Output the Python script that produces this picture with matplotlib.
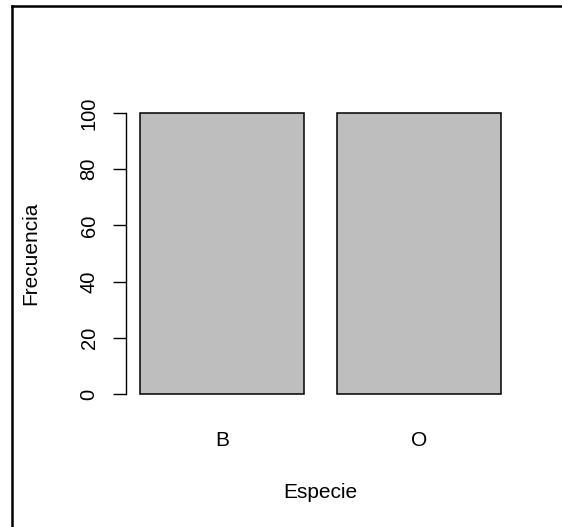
import numpy as np
import matplotlib
matplotlib.use("Agg")
from matplotlib import pyplot as plt
from matplotlib.lines import Line2D

especies = ["B", "O"]
frecuencias = [100, 100]
y_ticks = [0, 20, 40, 60, 80, 100]

plt.rcParams["font.family"] = ["Liberation Sans", "DejaVu Sans"]

W, H = 562, 527
fig = plt.figure(figsize=(W / 100, H / 100), dpi=100)

# R barplot layout: width 1, space 0.2, limits padded by 4%
lefts = 0.2 + np.arange(len(especies)) * 1.2
centers = lefts + 0.5
x_lo, x_hi = lefts[0], lefts[-1] + 1
x_pad = 0.04 * (x_hi - x_lo)
y_pad = 0.04 * max(frecuencias)

ax = fig.add_axes([125.6 / W, 1 - 405.2 / H, (515.2 - 125.6) / W, (405.2 - 101.8) / H])
ax.bar(centers, frecuencias, width=1.0, color="#BEBEBE", edgecolor="black", linewidth=1.1)
ax.set_xlim(x_lo - x_pad, x_hi + x_pad)
ax.set_ylim(-y_pad, max(frecuencias) + y_pad)

for s in ["top", "right", "bottom"]:
    ax.spines[s].set_visible(False)
ax.spines["left"].set_bounds(0, 100)
ax.spines["left"].set_linewidth(1.0)

ax.set_yticks(y_ticks)
ax.set_yticklabels([str(v) for v in y_ticks], rotation=90, va="center")
ax.tick_params(axis="y", length=9.5, width=1.0, pad=10, labelsize=14.5)

ax.set_xticks(centers)
ax.set_xticklabels(especies)
ax.tick_params(axis="x", length=0, pad=18.5, labelsize=15)

ax.set_xlabel("Especie", fontsize=15, labelpad=23.5)
ax.set_ylabel("Frecuencia", fontsize=15, labelpad=28)

# partial frame of the device border (top and left edges visible)
fig.add_artist(Line2D([12 / W, 12 / W], [0, 1 - 6 / H], transform=fig.transFigure, color="black", linewidth=1.8))
fig.add_artist(Line2D([12 / W, 1], [1 - 6 / H, 1 - 6 / H], transform=fig.transFigure, color="black", linewidth=1.8))

fig.savefig("out.png", dpi=100)
